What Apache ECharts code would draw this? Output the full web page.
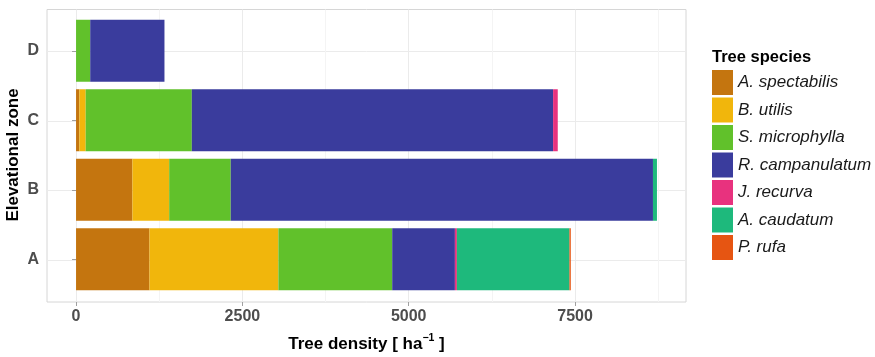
<!DOCTYPE html>
<html>
<head>
<meta charset="utf-8">
<script src="https://cdn.jsdelivr.net/npm/echarts@6/dist/echarts.min.js"></script>
<style>
  html, body { margin: 0; padding: 0; background: #ffffff; }
  #chart { width: 875px; height: 357px; }
</style>
</head>
<body>
<div id="chart"></div>
<script>
// Elevational zones (bottom to top) and tree species
const zones = ['A', 'B', 'C', 'D'];
const species = ['A. spectabilis', 'B. utilis', 'S. microphylla', 'R. campanulatum', 'J. recurva', 'A. caudatum', 'P. rufa'];
const speciesColors = ['#C4750F', '#F1B60C', '#61C12B', '#3A3C9D', '#E8327E', '#1EB97C', '#E65512'];

// Tree density (stems per ha) per zone A, B, C, D
const aSpectabilis  = [1104,  848,   50,    0];
const bUtilis       = [1937,  552,   95,    0];
const sMicrophylla  = [1711,  925, 1595,  213];
const rCampanulatum = [ 942, 6346, 5430, 1116];
const jRecurva      = [  30,    0,   70,    0];
const aCaudatum     = [1692,   60,    0,    0];
const pRufa         = [  20,    0,    0,    0];
const densities = [aSpectabilis, bUtilis, sMicrophylla, rCampanulatum, jRecurva, aCaudatum, pRufa];

// Axis ticks
const xTickValues = [0, 2500, 5000, 7500];
const xMinorValues = [1250, 3750, 6250, 8750];
const yPositions = [1, 2, 3, 4];

// Value range with 5% padding either side of the data
const xMin = -436.5;
const xMax = 9167.5;

const chart = echarts.init(document.getElementById('chart'), null, { renderer: 'canvas' });

const axisTextColor = '#4d4d4d';
const fontFamily = '"Liberation Sans", Arial, sans-serif';

const option = {
  animation: false,
  textStyle: { fontFamily: fontFamily },
  title: {
    text: 'Tree species',
    left: 712,
    top: 49,
    padding: 0,
    textStyle: { fontSize: 16.5, fontWeight: 'bold', color: '#000000', fontFamily: fontFamily }
  },
  legend: {
    orient: 'vertical',
    left: 712,
    top: 70,
    padding: 0,
    itemWidth: 21,
    itemHeight: 25,
    itemGap: 2.5,
    icon: 'rect',
    data: species,
    textStyle: { fontSize: 17, fontStyle: 'italic', color: '#1a1a1a', fontFamily: fontFamily }
  },
  grid: [
    // panel: border, gridlines, axis ticks and labels
    { left: 47, right: 189, top: 9.5, bottom: 55, show: true, borderColor: '#d6d6d6', borderWidth: 1,
      backgroundColor: 'transparent', containLabel: false, outerBoundsMode: 'none' },
    // stacked bars
    { left: 47, right: 189, top: 16, bottom: 63, containLabel: false, outerBoundsMode: 'none' }
  ],
  xAxis: [
    {
      type: 'value', gridIndex: 0, min: xMin, max: xMax,
      axisLine: { show: false },
      axisTick: { show: true, customValues: xTickValues, length: 4, lineStyle: { color: '#a0a0a0' } },
      axisLabel: { customValues: xTickValues, formatter: (v) => String(v), fontSize: 16, fontWeight: 'bold', color: axisTextColor, margin: 7 },
      splitLine: { show: true, lineStyle: { color: '#ebebeb', width: 1 } },
      name: '{t|Tree density [ ha}{s|\u22121}{t| ]}',
      nameLocation: 'middle',
      nameGap: 31,
      nameTextStyle: {
        rich: {
          t: { fontSize: 17, fontWeight: 'bold', color: '#000000', lineHeight: 22, fontFamily: fontFamily },
          s: { fontSize: 10.5, fontWeight: 'bold', color: '#000000', lineHeight: 12, verticalAlign: 'top', fontFamily: fontFamily }
        }
      }
    },
    {
      type: 'value', gridIndex: 0, min: xMin, max: xMax, position: 'top',
      axisLine: { show: false },
      axisTick: { show: false, customValues: xMinorValues },
      axisLabel: { show: false, customValues: xMinorValues },
      splitLine: { show: true, lineStyle: { color: '#f4f4f4', width: 1 } }
    },
    {
      type: 'value', gridIndex: 1, min: xMin, max: xMax, show: false,
      splitLine: { show: false }
    }
  ],
  yAxis: [
    {
      type: 'value', gridIndex: 0, min: 0.4, max: 4.6,
      axisLine: { show: false },
      axisTick: { show: false, customValues: yPositions },
      axisLabel: { show: false, customValues: yPositions },
      splitLine: { show: true, lineStyle: { color: '#ebebeb', width: 1 } }
    },
    {
      type: 'category', gridIndex: 1, data: zones,
      axisLine: { show: false },
      axisTick: { show: true, alignWithLabel: true, length: 4, lineStyle: { color: '#a0a0a0' } },
      axisLabel: { fontSize: 16, fontWeight: 'bold', color: axisTextColor, margin: 8 },
      splitLine: { show: false },
      name: 'Elevational zone',
      nameLocation: 'middle',
      nameRotate: 90,
      nameGap: 25,
      nameMoveOverlap: false,
      nameTextStyle: { fontSize: 17, fontWeight: 'bold', color: '#000000', fontFamily: fontFamily }
    }
  ],
  series: species.map((name, i) => ({
    name: name,
    type: 'bar',
    stack: 'density',
    xAxisIndex: 2,
    yAxisIndex: 1,
    barWidth: 62,
    itemStyle: { color: speciesColors[i] },
    data: densities[i]
  }))
};

chart.setOption(option);
</script>
</body>
</html>
